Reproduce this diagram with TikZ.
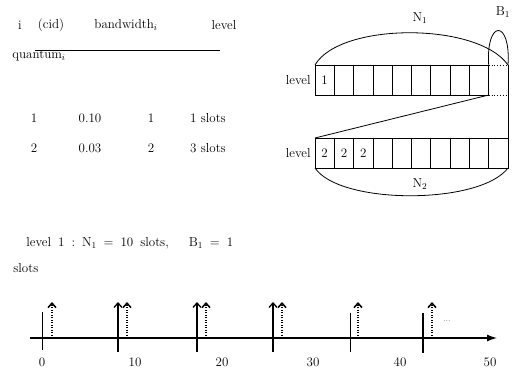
\documentclass[tikz,border=0pt]{standalone}
\usetikzlibrary{positioning,arrows.meta}
\begin{document}
\begin{tikzpicture}
[x=1pt,y=-1pt,>={Straight Barb[length=4.5pt,width=8pt]},line width=0.8pt,
 txt/.style={inner sep=1pt,font=\fontsize{13}{15}\selectfont},
 slotbox/.style={draw,minimum width=19.3pt,minimum height=30pt,inner sep=0pt,outer sep=0pt,font=\fontsize{13}{15}\selectfont},
 tick/.style={line width=1.2pt},
 arr/.style={line width=1.3pt,->},
 dotarr/.style={line width=1.5pt,dash pattern=on 1pt off 1.5pt,->},]
\useasboundingbox (0,0) rectangle (512,372);
\node (hi) at (20,25)[txt] {i};
\node (hcid) at (51,25)[txt] {(cid)};
\node (hbw) at (126,25)[txt] {bandwidth$_i$};
\node (hlev) at (224,25)[txt] {level};
\node (hq) at (11,56)[txt,anchor=west] {quantum$_i$};
\draw (35,50) -- (220,50);
\node (i1) at (34,118)[txt] {1};
\node (bw1) at (90,118)[txt] {0.10};
\node (l1) at (151,118)[txt] {1};
\node (q1) at (208,118)[txt] {1 slots};
\node (i2) at (34,148)[txt] {2};
\node (bw2) at (90,148)[txt] {0.03};
\node (l2) at (151,148)[txt] {2};
\node (q2) at (208,148)[txt] {3 slots};

\node (a1) at (324.65,80)[slotbox] {1};
\foreach \i [evaluate=\i as \j using int(\i+1)] in {1,...,8}
  \node (a\j) [slotbox,right=0pt of a\i] {};
\node (b1) [slotbox,draw=none,right=0pt of a9] {};
\draw[dotted] (b1.north west) -- (b1.north east);
\draw[dotted] (b1.south west) -- (b1.south east);
\node (lev1) [txt,left=3pt of a1] {level};

\node (c1) at (324.65,153)[slotbox] {2};
\node (c2) [slotbox,right=0pt of c1] {2};
\node (c3) [slotbox,right=0pt of c2] {2};
\foreach \i [evaluate=\i as \j using int(\i+1)] in {3,...,9}
  \node (c\j) [slotbox,right=0pt of c\i] {};
\node (lev2) [txt,left=3pt of c1] {level};

\draw (a9.south east) -- (c1.north west);
\draw (b1.north east) -- (c10.north east);
\draw (a1.north west) .. controls +(25,-43) and +(-30,-43) .. (b1.north east);
\draw (b1.north west) .. controls +(-3,-46) and +(3,-46) .. (b1.north east);
\draw (c1.south west) .. controls +(25,37) and +(-28,37) .. (c10.south east);
\node (n1) at (420,18)[txt] {N$_1$};
\node (bb1) at (503,12)[txt] {B$_1$};
\node (n2) at (420,184)[txt] {N$_2$};

\node (rule) at (25,243)[txt,anchor=west] {level\hspace{7pt}1\hspace{7pt}:\hspace{7pt}N$_1$\hspace{7pt}=\hspace{7pt}10\hspace{7pt}slots,\hspace{20pt}B$_1$\hspace{7pt}=\hspace{7pt}1};
\node (rule2) at (12,268)[txt,anchor=west] {slots};

\draw[line width=1.3pt,-{Latex[length=10pt,width=7pt]}] (30,338) -- (497,338);
\draw[line width=0.8pt] (42,312) -- (42,350);
\draw[line width=0.8pt] (350,313) -- (350,352);
\draw[tick] (423,313) -- (423,353);
\foreach \x in {118,197,273}
  \draw[arr] (\x,352) -- (\x,302);
\foreach \x in {52,127,206,282,358,432}
  \draw[dotarr] (\x,338) -- (\x,302);
\node (dots) at (447,321)[inner sep=0pt,font=\scriptsize] {...};
\node (t0) at (42,362)[txt] {0};
\node (t10) at (135,362)[txt] {10};
\node (t20) at (222,362)[txt] {20};
\node (t30) at (313,362)[txt] {30};
\node (t40) at (400,362)[txt] {40};
\node (t50) at (490,362)[txt] {50};
\end{tikzpicture}
\end{document}
